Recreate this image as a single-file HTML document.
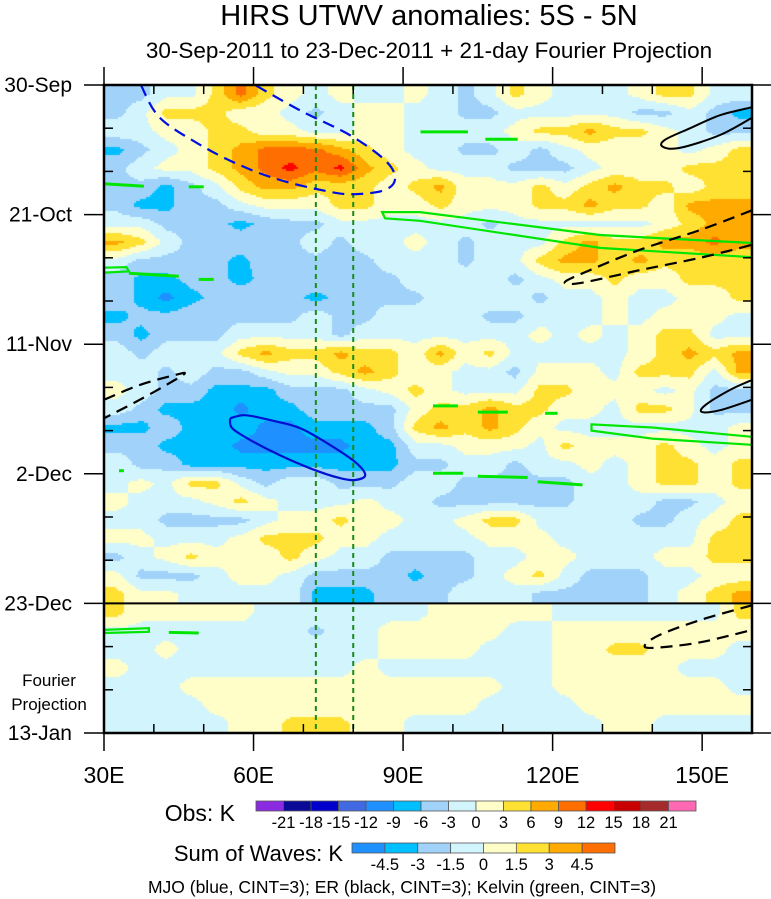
<!DOCTYPE html>
<html><head><meta charset="utf-8">
<style>
html,body{margin:0;padding:0;background:#fff;}
#wrap{position:relative;width:771px;height:899px;overflow:hidden;font-family:"Liberation Sans",sans-serif;}
canvas,svg{position:absolute;left:0;top:0;}
</style></head>
<body>
<div id="wrap">
<canvas id="cv" width="771" height="899"></canvas>
<svg id="sv" width="771" height="899" xmlns="http://www.w3.org/2000/svg">
<text x="429" y="25" text-anchor="middle" font-size="29">HIRS UTWV anomalies: 5S - 5N</text>
<text x="429" y="58" text-anchor="middle" font-size="22.5">30-Sep-2011 to 23-Dec-2011 + 21-day Fourier Projection</text>
<text x="49" y="686" text-anchor="middle" font-size="17">Fourier</text>
<text x="49" y="710" text-anchor="middle" font-size="17">Projection</text>
<text x="235" y="821" text-anchor="end" font-size="23">Obs: K</text>
<text x="343" y="861" text-anchor="end" font-size="22">Sum of Waves: K</text>
<text x="402" y="893" text-anchor="middle" font-size="17.5">MJO (blue, CINT=3); ER (black, CINT=3); Kelvin (green, CINT=3)</text>
</svg>
</div>
<script>
// ---- data ----
const lonStart = 30, lonEnd = 160, lonStep = 5;
const dayStep = 3, obsDays = 84, totalDays = 105;
const yTickLabels = ["30-Sep","21-Oct","11-Nov","2-Dec","23-Dec","13-Jan"];
const xTickLabels = ["30E","60E","90E","120E","150E"];
const xTickLons = [30,60,90,120,150];
const obsLevels = [-21,-18,-15,-12,-9,-6,-3,0,3,6,9,12,15,18,21];
const obsColors = ["#8a2be2","#0a0a96","#0000cd","#4169e1","#1e90ff","#00bfff","#a0d2fa","#d2f5fd","#fffdc8","#ffe134","#ffaa00","#ff6e00","#ff0000","#c80000","#a52a2a","#ff69b4"];
const waveLevels = [-4.5,-3,-1.5,0,1.5,3,4.5];
const waveColors = ["#1e90ff","#00bfff","#a0d2fa","#d2f5fd","#fffdc8","#ffe134","#ffaa00","#ff6e00"];
const obsRows = [
[-4,-4,-1,-1,4,10,4,1,-1,1,-1,-1,1,-1,-4,-1,4,1,-1,-1,-1,1,4,4,-1,-1],
[-4,-1,4,4,4,1,1,-1,-4,-1,1,1,-1,-1,-4,-4,-1,-1,-1,-1,-1,-4,-4,-1,-4,-7],
[-1,-1,1,1,4,4,1,1,-1,-1,1,1,-1,-1,-1,-1,1,4,4,7,4,4,1,-1,-4,-4],
[-7,-4,-1,1,4,7,10,10,10,7,4,1,-1,-1,-4,-4,-1,-4,-1,1,1,1,1,-1,1,4],
[-4,-1,1,1,4,7,10,13,10,13,7,4,1,-1,-1,-1,-4,-4,-4,-1,1,1,1,4,4,4],
[-4,-4,-7,-4,-1,4,7,7,4,4,4,1,4,7,1,1,1,4,1,4,7,4,4,1,4,4],
[-4,-7,-7,-4,-4,-1,1,1,1,4,4,1,1,4,1,1,1,4,4,7,4,4,1,7,7,7],
[-1,-1,-4,-4,-5,-7,-5,-4,-4,-1,-1,-1,-1,-1,-1,-4,-1,-1,-1,-1,-1,-1,1,4,7,7],
[7,4,-1,-4,-5,-4,-4,-4,-1,-4,-1,-1,1,-1,-4,-1,-1,-1,4,7,4,4,7,7,10,7],
[-1,-4,-4,-4,-5,-7,-4,-4,-4,-5,-4,-1,-1,-1,-4,-1,-1,4,7,7,4,7,4,4,4,4],
[-4,-7,-7,-5,-5,-7,-5,-4,-4,-4,-4,-4,-1,-1,-1,-1,-4,-1,1,1,4,1,1,4,4,4],
[-4,-7,-10,-7,-5,-4,-4,-5,-7,-5,-4,-4,-4,-1,-1,-1,-1,-4,-1,-1,1,-1,-1,1,1,4],
[-7,-5,-5,-4,-4,-4,-4,-4,-1,-4,-4,-1,-1,-1,-1,-4,-4,-1,-1,-1,1,-1,1,1,1,-1],
[-4,-7,-4,-4,-4,-1,-1,-1,-1,-4,-1,-1,-1,-1,-1,-1,-1,1,-1,1,-1,1,4,4,-1,-1],
[-1,-4,-1,-1,-1,4,7,4,4,7,4,4,1,7,1,4,-1,-1,-1,-1,-1,1,4,7,4,7],
[-1,-1,-4,-1,-4,-4,-1,1,1,4,7,4,1,1,-1,-1,-4,1,1,1,-1,4,4,4,-1,7],
[1,-1,-4,-4,-7,-7,-7,-4,-4,-4,-1,1,4,1,-1,-1,-1,4,4,1,1,1,-1,1,-4,-4],
[-1,-4,-7,-7,-7,-10,-7,-7,-4,-4,-4,-4,1,4,4,7,4,4,1,1,-1,4,4,1,-4,-4],
[-7,-7,-4,-7,-7,-7,-10,-10,-7,-7,-7,-4,4,7,4,7,4,1,-1,-1,-1,-1,-1,-1,-1,1],
[-4,-4,-7,-7,-7,-10,-10,-10,-10,-10,-7,-7,-1,-1,1,1,1,-1,4,1,1,1,4,1,-1,1],
[-1,-4,-4,-7,-7,-7,-7,-7,-7,-7,-7,-7,-4,-4,-1,-1,-4,-1,-1,1,-1,1,4,4,1,4],
[-1,1,-1,4,4,-1,-4,-1,-1,-4,-4,-4,-1,-1,-4,-4,-4,-4,-4,-1,-1,1,4,4,1,4],
[1,-1,-1,-1,1,4,1,-1,-1,-1,1,-1,-1,-4,-4,-4,-4,-4,-4,-1,-1,-1,-4,-4,-1,1],
[-1,-1,-4,-4,-4,-4,-1,1,1,4,1,1,-1,-1,1,4,4,-1,-1,-1,-1,-4,-4,-1,1,4],
[1,1,-1,-1,-1,1,4,4,4,1,1,-1,-1,-1,-1,1,1,1,-1,-1,-1,-1,-1,-1,4,4],
[-4,-1,1,4,1,1,1,4,1,-1,-1,-4,-4,-4,-4,-1,-1,1,1,-1,-1,-1,1,1,4,4],
[1,-4,-4,-4,-1,1,1,-1,-4,-4,-4,-4,-7,-4,-4,-1,1,4,-1,-4,-4,-4,-1,-1,1,1],
[4,1,1,-1,-1,-1,-1,-1,-7,-7,-7,-4,-4,-4,-1,-1,-1,-4,-4,-4,-4,-4,-1,1,4,7]
];
const projRows = [
[2,0.5,0.5,0.5,0.5,0.5,-0.5,-0.5,-0.5,-0.5,-0.5,-0.5,-0.5,0.5,0.5,0.5,0.5,0.5,-0.5,-0.5,-0.5,-0.5,-0.5,-0.5,-0.5,2],
[-0.5,-0.5,-0.5,-0.5,-0.5,-0.5,-0.5,-0.5,-2,-0.5,-0.5,0.5,0.5,0.5,0.5,0.5,-0.5,-0.5,0.5,0.5,0.5,0.5,0.5,0.5,0.5,0.5],
[-0.5,-0.5,0.5,-0.5,-0.5,-0.5,-0.5,-0.5,-0.5,-0.5,-0.5,0.5,0.5,0.5,0.5,-0.5,-0.5,-0.5,0.5,0.5,2,2,0.5,0.5,0.5,-0.5],
[0.5,-0.5,-0.5,-0.5,-0.5,-0.5,-0.5,-0.5,-0.5,-0.5,0.5,-0.5,-0.5,-0.5,-0.5,-0.5,-0.5,-0.5,0.5,0.5,0.5,0.5,0.5,-0.5,-0.5,-0.5],
[-0.5,-0.5,-0.5,0.5,0.5,0.5,0.5,0.5,0.5,0.5,0.5,0.5,0.5,0.5,0.5,0.5,-0.5,-0.5,0.5,0.5,0.5,0.5,0.5,0.5,0.5,-0.5],
[-0.5,-0.5,-0.5,-0.5,0.5,0.5,0.5,0.5,0.5,0.5,0.5,0.5,0.5,0.5,0.5,-0.5,-0.5,-0.5,-0.5,0.5,0.5,0.5,0.5,0.5,0.5,0.5],
[-0.5,-0.5,-0.5,-0.5,-0.5,0.5,0.5,2,2,2,0.5,0.5,-0.5,-0.5,-0.5,-0.5,-0.5,-0.5,-0.5,-0.5,0.5,0.5,-0.5,-0.5,-0.5,-0.5]
];
// contours in [lon, day]
const mjoNeg = [[37.4,0],[41.2,5.3],[49.3,9.7],[57.3,13],[65.3,15.4],[75.3,17.3],[80.4,17.7],[86.4,17],[88.4,15.1],[86.4,12.2],[79.3,8.1],[69.3,4.1],[60.3,0]];
const mjoPos = [[55.3,54],[58.3,53.5],[63.3,54.3],[69.3,55.6],[75.3,58.3],[80.4,61.1],[82.4,63.2],[80.4,64],[77.3,63.7],[71.3,62.1],[65.3,60],[59.3,57.5],[55.7,55.6],[55.3,54]];
const erPos1 = [[160,3.6],[153.6,4.9],[147.6,7],[142.5,8.9],[142.1,10],[145.5,10.2],[153.6,8.1],[160,5.3]];
const erPos2 = [[160,47.8],[155.6,49.4],[150.6,51.9],[150,53],[153.6,52.7],[160,51]];
const erNeg1 = [[160,20.3],[149.6,23.5],[137.5,26.7],[127.5,30],[122.5,31.9],[125.5,32.1],[137.5,30],[149.6,28],[160,25.9]];
const erNeg2 = [[30,51],[37.2,48.6],[44.2,47],[46.2,46.7],[44.2,47.8],[37.2,51],[30,54]];
const erNeg3 = [[160,84.3],[149.6,86.7],[141.5,89.1],[138.5,90.8],[140.5,91.2],[149.6,90.3],[160,88.3]];
const kelvinLoops = [
[[85.8,20.6],[93.4,20.6],[129.5,24.3],[160,25.6],[160,27.9],[129.5,26.4],[93.4,22],[86.4,21.6],[85.8,20.6]],
[[127.8,55],[140,55.5],[160,57],[160,58.3],[140,57.3],[127.8,56],[127.8,55]],
[[30,29.6],[34.5,29.5],[35,30.2],[30,30.4]],
[[30,88.3],[39,88],[39,88.6],[30,88.8]]
];
const kelvinSegs = [
[[93.5,7.6],[103,7.6]],[[106.5,8.8],[113,8.8]],[[30,16],[38,16.4]],[[47,16.5],[50,16.5]],
[[35,30.5],[45,31]],[[49,31.5],[52,31.5]],[[96,52],[101,52]],[[105,53],[111,53]],
[[118.5,53.2],[121,53.2]],[[96,62.9],[102,62.9]],[[105,63.4],[115,63.6]],[[117,64.3],[126,64.8]],
[[43,88.7],[49,88.8]],[[33,62.5],[34,62.5]]
];
const refLons = [72.5, 80];

// ---- axes ----
const PX0=104, PX1=752, PY0=85, PY1=733;
function xPx(lon){return PX0+(lon-lonStart)*(PX1-PX0)/(lonEnd-lonStart);}
function yPx(day){return PY0+day*(PY1-PY0)/totalDays;}

// ---- heatmap ----
const nCols = (lonEnd-lonStart)/lonStep;
function interp(rows, lon, dayRel){
  const nr = rows.length;
  let gx=(lon-lonStart)/lonStep-0.5, gy=dayRel/dayStep-0.5;
  gx=Math.max(0,Math.min(nCols-1,gx)); gy=Math.max(0,Math.min(nr-1,gy));
  const x0=Math.floor(gx), y0=Math.floor(gy), x1=Math.min(nCols-1,x0+1), y1=Math.min(nr-1,y0+1);
  const fx=gx-x0, fy=gy-y0;
  const a=rows[y0][x0]*(1-fx)+rows[y0][x1]*fx, b=rows[y1][x0]*(1-fx)+rows[y1][x1]*fx;
  return a*(1-fy)+b*fy;
}
function colorFor(v, levels, colors){
  let i=0; while(i<levels.length && v>=levels[i]) i++; return colors[i];
}
const ctx=document.getElementById('cv').getContext('2d');
const step=2;
for(let py=PY0;py<PY1;py+=step){
  for(let px=PX0;px<PX1;px+=step){
    const lon=lonStart+(px+step/2-PX0)*(lonEnd-lonStart)/(PX1-PX0);
    const day=(py+step/2-PY0)*totalDays/(PY1-PY0);
    let c;
    if(day<obsDays){ c=colorFor(interp(obsRows,lon,day),obsLevels,obsColors); }
    else { c=colorFor(interp(projRows,lon,day-obsDays),waveLevels,waveColors); }
    ctx.fillStyle=c; ctx.fillRect(px,py,step,step);
  }
}

// ---- overlay ----
const NS="http://www.w3.org/2000/svg";
const sv=document.getElementById('sv');
function mk(tag, attrs){const e=document.createElementNS(NS,tag);for(const k in attrs)e.setAttribute(k,attrs[k]);sv.appendChild(e);return e;}
function pathD(pts, close){return pts.map((p,i)=>(i?'L':'M')+xPx(p[0]).toFixed(1)+' '+yPx(p[1]).toFixed(1)).join(' ')+(close?' Z':'');}
function smoothD(pts){
  const P=pts.map(p=>[xPx(p[0]),yPx(p[1])]);
  let d='M'+P[0][0].toFixed(1)+' '+P[0][1].toFixed(1);
  for(let i=0;i<P.length-1;i++){
    const p0=P[Math.max(0,i-1)],p1=P[i],p2=P[i+1],p3=P[Math.min(P.length-1,i+2)];
    const c1=[p1[0]+(p2[0]-p0[0])/6,p1[1]+(p2[1]-p0[1])/6], c2=[p2[0]-(p3[0]-p1[0])/6,p2[1]-(p3[1]-p1[1])/6];
    d+=' C'+c1.map(v=>v.toFixed(1)).join(' ')+' '+c2.map(v=>v.toFixed(1)).join(' ')+' '+p2[0].toFixed(1)+' '+p2[1].toFixed(1);
  }
  return d;
}
const clip=mk('clipPath',{id:'pc'});
const cr=document.createElementNS(NS,'rect');cr.setAttribute('x',PX0);cr.setAttribute('y',PY0);cr.setAttribute('width',PX1-PX0);cr.setAttribute('height',PY1-PY0);clip.appendChild(cr);
const g=mk('g',{'clip-path':'url(#pc)'});
function addPath(d, stroke, dash, w, name){
  const e=document.createElementNS(NS,'path');
  e.setAttribute('d',d);e.setAttribute('fill','none');e.setAttribute('stroke',stroke);e.setAttribute('stroke-width',w);
  if(dash)e.setAttribute('stroke-dasharray',dash);
  
  
  g.appendChild(e);
}
kelvinLoops.forEach(l=>addPath(pathD(l,true),'#00e600',null,2.2,'kelvin-contour'));
kelvinSegs.forEach(l=>addPath(pathD(l,false),'#00e600',null,3,'kelvin-contour'));
refLons.forEach(lon=>addPath('M'+xPx(lon)+' '+PY0+' L'+xPx(lon)+' '+PY1,'#1a8a1a','5 4',2,'reference-longitude-line'));
addPath(smoothD(mjoNeg),'#0010e0','12 7',2.2,'mjo-negative-contour');
addPath(smoothD(mjoPos),'#0010d0',null,2.2,'mjo-positive-contour');
addPath(smoothD(erPos1),'#000',null,2,'er-positive-contour');
addPath(smoothD(erPos2),'#000',null,2,'er-positive-contour');
addPath(smoothD(erNeg1),'#000','12 7',2.2,'er-negative-contour');
addPath(smoothD(erNeg2),'#000','12 7',2.2,'er-negative-contour');
addPath(smoothD(erNeg3),'#000','12 7',2.2,'er-negative-contour');
// 23-Dec divider
const dv=mk('line',{x1:PX0,x2:PX1,y1:yPx(obsDays),y2:yPx(obsDays),stroke:'#000','stroke-width':2});


// frame
const fr=mk('rect',{x:PX0,y:PY0,width:PX1-PX0,height:PY1-PY0,fill:'none',stroke:'#000','stroke-width':2.5});


// y ticks
for(let d=0; d<=totalDays; d+=7){
  const y=yPx(d), major=(d%21===0);
  const t1=mk('line',{x1:major?PX0-20:PX0,x2:major?PX0:PX0+9,y1:y,y2:y,stroke:'#000','stroke-width':1.5});
  
  
  const t2=mk('line',{x1:major?PX1:PX1-9,x2:major?PX1+20:PX1,y1:y,y2:y,stroke:'#000','stroke-width':1.5});
  
  
}
yTickLabels.forEach((s,i)=>{
  const t=mk('text',{x:72,y:yPx(i*21)+7,'text-anchor':'end','font-size':21});
  t.textContent=s;
  
  
});
// x ticks
for(let lon=30; lon<=160; lon+=10){
  const x=xPx(lon), major=(lon%30===0);
  const b=mk('line',{x1:x,x2:x,y1:major?PY1+18:PY1-9,y2:PY1,stroke:'#000','stroke-width':1.5});
  
  
  const tp=mk('line',{x1:x,x2:x,y1:major?PY0-18:PY0,y2:major?PY0:PY0+9,stroke:'#000','stroke-width':1.5});
  
  
}
xTickLabels.forEach((s,i)=>{
  const t=mk('text',{x:xPx(xTickLons[i]),y:783,'text-anchor':'middle','font-size':23});
  t.textContent=s;
  
  
});
// colorbars
function colorbar(x0,y0,w,h,colors,labels,name){
  const bw=w/colors.length;
  colors.forEach((c,i)=>{
    const r=mk('rect',{x:x0+i*bw,y:y0,width:bw,height:h,fill:c,stroke:'#555','stroke-width':0.8});
    
    
  });
  labels.forEach((s,i)=>{
    const t=mk('text',{x:x0+(i+1)*bw,y:y0+h+17,'text-anchor':'middle','font-size':16.5});
    t.textContent=String(s);
    
    
  });
}
colorbar(256,801,440,10,obsColors,obsLevels,'obs-colorbar');
colorbar(352,843,263,10,waveColors,waveLevels,'waves-colorbar');
</script>
</body></html>
